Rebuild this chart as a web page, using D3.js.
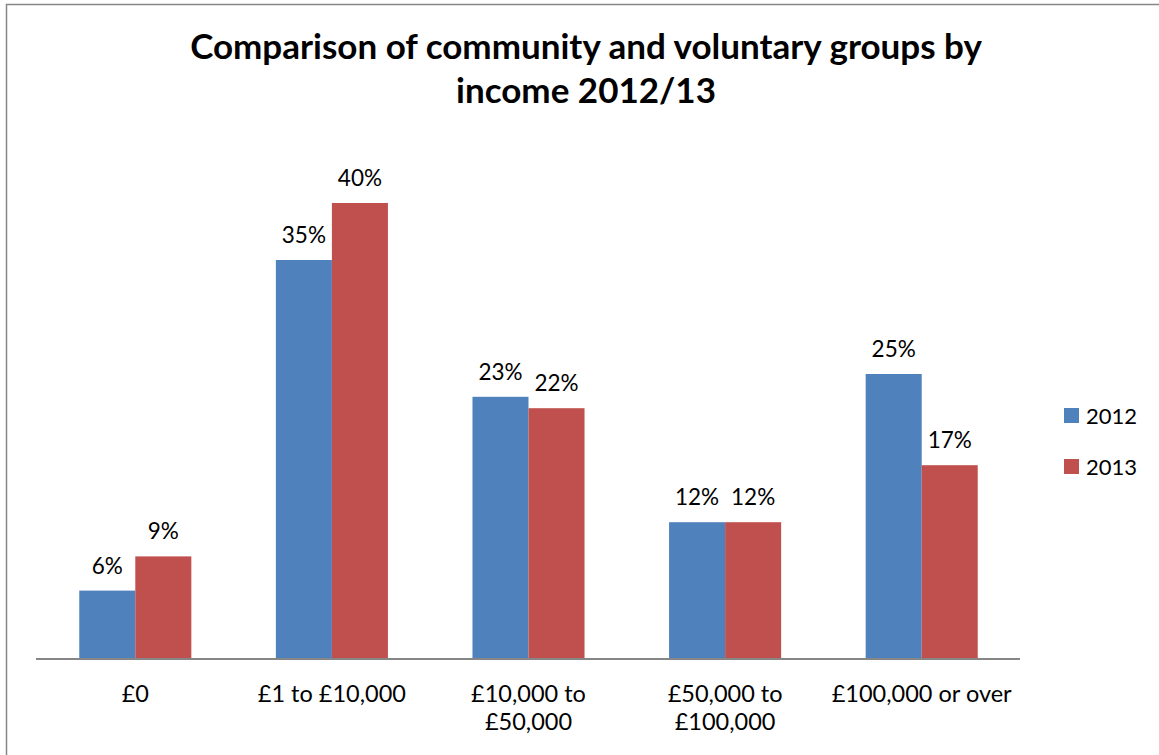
<!DOCTYPE html>
<html>
<head>
<meta charset="utf-8">
<script src="https://cdn.jsdelivr.net/npm/d3@7"></script>
<style>
  html, body { margin: 0; padding: 0; background: #fff; }
  svg { display: block; }
  text { font-family: Lato, "Open Sans", sans-serif; fill: #000; }
</style>
</head>
<body>
<svg id="chart" width="1159" height="755"></svg>
<script>
// Income bands (label lines) and share of groups per year, in percent
const categories = [
  ["£0"],
  ["£1 to £10,000"],
  ["£10,000 to", "£50,000"],
  ["£50,000 to", "£100,000"],
  ["£100,000 or over"]
];
const seriesNames = ["2012", "2013"];
const values2012 = [6, 35, 23, 12, 25];
const values2013 = [9, 40, 22, 12, 17];
const seriesColors = ["#4F81BD", "#C0504D"];
const titleLines = ["Comparison of community and voluntary groups by", "income 2012/13"];

const svg = d3.select("#chart");
const W = 1159, H = 755;

// chart frame
svg.append("rect")
  .attr("x", 6.5).attr("y", 4.5)
  .attr("width", W + 10).attr("height", H + 10)
  .attr("fill", "#fff").attr("stroke", "#868686").attr("stroke-width", 1.5);

const plot = { left: 37, right: 1020, baseline: 659 };

const x0 = d3.scaleBand()
  .domain(d3.range(categories.length))
  .range([plot.left, plot.right])
  .padding(0);

const barW = x0.bandwidth() * 0.285;
const x1 = d3.scaleBand()
  .domain(seriesNames)
  .range([x0.bandwidth() / 2 - barW, x0.bandwidth() / 2 + barW])
  .padding(0);

const y = d3.scaleLinear()
  .domain([0, 45])
  .range([plot.baseline, plot.baseline - 45 * 11.4]);

const seriesData = [values2012, values2013];

// title
svg.append("g").selectAll("text")
  .data(titleLines)
  .join("text")
  .attr("x", 586)
  .attr("y", (d, i) => 59 + i * 44)
  .attr("text-anchor", "middle")
  .attr("font-size", 35)
  .attr("font-weight", "bold")
  .text(d => d);

// bars
const groups = svg.append("g").selectAll("g")
  .data(seriesNames.map((name, s) => ({ name, s, vals: seriesData[s] })))
  .join("g")
  .attr("fill", d => seriesColors[d.s]);

groups.selectAll("rect")
  .data(d => d.vals.map((v, i) => ({ v, i, name: d.name })))
  .join("rect")
  .attr("x", d => x0(d.i) + x1(d.name))
  .attr("y", d => y(d.v))
  .attr("width", x1.bandwidth())
  .attr("height", d => y(0) - y(d.v));

// value labels
groups.selectAll("text")
  .data(d => d.vals.map((v, i) => ({ v, i, name: d.name })))
  .join("text")
  .attr("x", d => x0(d.i) + x1(d.name) + x1.bandwidth() / 2)
  .attr("y", d => y(d.v) - 17)
  .attr("text-anchor", "middle")
  .attr("font-size", 22.5)
  .style("fill", "#000")
  .text(d => d.v + "%");

// category axis
const axis = svg.append("g")
  .attr("transform", `translate(0,${plot.baseline})`)
  .call(d3.axisBottom(x0).tickSize(0).tickFormat(""));
axis.select(".domain").attr("stroke", "#868686").attr("stroke-width", 2)
  .attr("d", `M${plot.left - 1},0H${plot.right}`);

const catLabels = svg.append("g").selectAll("text")
  .data(categories)
  .join("text")
  .attr("x", (d, i) => x0(i) + x0.bandwidth() / 2)
  .attr("y", plot.baseline + 43)
  .attr("text-anchor", "middle")
  .attr("font-size", 23.5);
catLabels.selectAll("tspan")
  .data(d => d)
  .join("tspan")
  .attr("x", function () { return this.parentNode.getAttribute("x"); })
  .attr("dy", (d, i) => i === 0 ? 0 : 28)
  .text(d => d);

// legend
const legend = svg.append("g").selectAll("g")
  .data(seriesNames)
  .join("g")
  .attr("transform", (d, i) => `translate(1064,${408 + i * 51})`);
legend.append("rect")
  .attr("width", 15).attr("height", 15)
  .attr("fill", (d, i) => seriesColors[i]);
legend.append("text")
  .attr("x", 22).attr("y", 15.5)
  .attr("font-size", 22)
  .text(d => d);
</script>
</body>
</html>
